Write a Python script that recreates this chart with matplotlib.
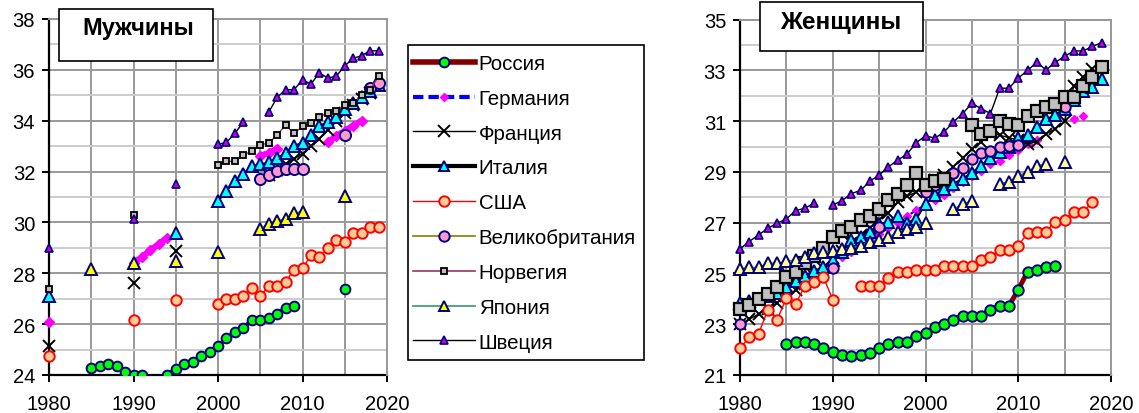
import numpy as np
import matplotlib
matplotlib.use('Agg')
import matplotlib.pyplot as plt
from matplotlib.lines import Line2D
from matplotlib.patches import Rectangle

plt.rcParams['font.family'] = ['Liberation Sans', 'DejaVu Sans']

# ---------------- data: mean age, men ----------------
m_russia_years = [1985, 1986, 1987, 1988, 1989, 1990, 1991, 1992, 1993, 1994, 1995, 1996, 1997, 1998, 1999,
                  2000, 2001, 2002, 2003, 2004, 2005, 2006, 2007, 2008, 2009, 2015]
m_russia_vals = [24.28, 24.37, 24.43, 24.34, 24.11, 24.01, 24.01, 23.75, 23.75, 24.01, 24.24, 24.43, 24.50, 24.76, 24.92,
                 25.15, 25.44, 25.68, 25.84, 26.17, 26.17, 26.23, 26.40, 26.65, 26.73, 27.38]
m_germany_years = [1980, 1990, 1991, 1992, 1993, 1994, 2005, 2006, 2007, 2013, 2014, 2015, 2016, 2017]
m_germany_vals = [26.1, 28.4, 28.65, 28.9, 29.15, 29.4, 32.6, 32.75, 32.9, 33.15, 33.4, 33.6, 33.8, 34.0]
m_france_years = [1980, 1990, 1995, 2006, 2007, 2008, 2009, 2010, 2011, 2012, 2013, 2014, 2015, 2016, 2017, 2018]
m_france_vals = [25.15, 27.62, 28.89, 31.85, 32.05, 32.3, 32.5, 32.7, 33.0, 33.3, 33.65, 34.0, 34.3, 34.6, 34.85, 35.1]
m_italy_years = [1980, 1995, 2000, 2001, 2002, 2003, 2004, 2005, 2006, 2007, 2008, 2009, 2010, 2011, 2012, 2013,
                 2014, 2015, 2016, 2017, 2018, 2019]
m_italy_vals = [27.12, 29.6, 30.84, 31.24, 31.63, 31.9, 32.2, 32.28, 32.36, 32.52, 32.73, 33.02, 33.12, 33.44, 33.78,
                33.94, 34.13, 34.45, 34.7, 34.95, 35.15, 35.4]
m_usa_years = [1980, 1990, 1995, 2000, 2001, 2002, 2003, 2004, 2005, 2006, 2007, 2008, 2009, 2010, 2011, 2012,
               2013, 2014, 2015, 2016, 2017, 2018, 2019]
m_usa_vals = [24.73, 26.17, 26.96, 26.79, 26.99, 26.99, 27.12, 27.41, 27.12, 27.49, 27.49, 27.67, 28.14, 28.21,
              28.70, 28.63, 28.98, 29.32, 29.22, 29.57, 29.57, 29.81, 29.81]
m_uk_years = [2005, 2006, 2007, 2008, 2009, 2010, 2015, 2018, 2019]
m_uk_vals = [31.71, 31.87, 32.04, 32.1, 32.1, 32.1, 33.44, 35.27, 35.5]
m_norway_years = [1980, 1990, 2000, 2001, 2002, 2003, 2004, 2005, 2006, 2007, 2008, 2009, 2010, 2011, 2012, 2013,
                  2014, 2015, 2016, 2017, 2018, 2019]
m_norway_vals = [27.38, 30.29, 32.27, 32.40, 32.40, 32.65, 32.80, 33.05, 33.12, 33.44, 33.83, 33.50, 33.78, 33.91,
                 34.16, 34.30, 34.39, 34.62, 34.70, 35.02, 35.2, 35.75]
m_japan_years = [1985, 1990, 1995, 2000, 2005, 2006, 2007, 2008, 2009, 2010, 2015]
m_japan_vals = [28.17, 28.4, 28.5, 28.83, 29.74, 29.94, 30.07, 30.14, 30.37, 30.42, 31.05]
m_sweden_years = [1980, 1990, 1995, 2000, 2001, 2002, 2003, 2006, 2007, 2008, 2009, 2010, 2011, 2012, 2013, 2014,
                  2015, 2016, 2017, 2018, 2019]
m_sweden_vals = [28.98, 30.14, 31.51, 33.07, 33.15, 33.5, 33.95, 34.33, 34.92, 35.22, 35.22, 35.61, 35.44, 35.88,
                 35.68, 35.75, 36.16, 36.45, 36.56, 36.75, 36.75]

# ---------------- data: mean age, women ----------------
w_russia_years = list(range(1985, 2015))
w_russia_vals = [22.22, 22.31, 22.31, 22.22, 22.06, 21.9, 21.8, 21.76, 21.77, 21.85, 22.06, 22.22, 22.31, 22.31,
                 22.55, 22.64, 22.88, 23.01, 23.18, 23.34, 23.34, 23.34, 23.57, 23.73, 23.73, 24.36, 25.07, 25.15,
                 25.24, 25.31]
w_germany_years = list(range(1990, 2013)) + [2016, 2017]
w_germany_vals = [25.45, 25.65, 25.85, 26.05, 26.3, 26.55, 26.8, 27.0, 27.25, 27.5, 27.7, 27.9, 28.1, 28.35, 28.6,
                  28.85, 29.05, 29.3, 29.45, 29.65, 29.85, 30.1, 30.25, 31.1, 31.2]
w_france_years = list(range(1980, 2019))
w_france_vals = [23.0, 23.2, 23.4, 23.6, 23.85, 24.1, 24.35, 24.6, 24.9, 25.2, 25.6, 25.9, 26.2, 26.5, 26.8, 27.1,
                 27.4, 27.8, 28.05, 28.2, 28.45, 28.7, 28.9, 29.2, 29.55, 29.9, 30.2, 30.55, 30.45, 30.35, 30.25,
                 30.1, 30.2, 30.5, 30.7, 31.0, 32.4, 32.75, 33.05]
w_italy_years = list(range(1980, 2020))
w_italy_vals = [23.84, 23.9, 24.0, 24.1, 24.25, 24.46, 24.72, 24.89, 25.11, 25.24, 25.55, 25.85, 26.3, 26.45, 26.62,
                26.95, 27.04, 27.27, 26.99, 27.15, 27.74, 28.08, 28.33, 28.53, 28.73, 28.97, 29.24, 29.56, 29.77,
                30.0, 30.33, 30.44, 30.78, 31.07, 31.25, 31.5, 31.85, 32.2, 32.34, 32.66]
w_usa_years = list(range(1980, 1991)) + list(range(1993, 2019))
w_usa_vals = [22.06, 22.49, 22.62, 23.57, 23.18, 24.02, 23.8, 24.52, 24.68, 24.85, 23.97,
              24.52, 24.52, 24.52, 24.81, 25.07, 25.07, 25.15, 25.15, 25.15, 25.31, 25.31, 25.31, 25.31, 25.54,
              25.64, 25.94, 25.94, 26.1, 26.58, 26.65, 26.65, 27.04, 27.12, 27.43, 27.43, 27.81]
w_uk_years = [1980, 1990, 1995] + list(range(2000, 2011)) + [2015]
w_uk_vals = [23.0, 25.2, 26.82, 28.23, 28.49, 28.75, 28.96, 29.14, 29.51, 29.75, 29.82, 29.97, 30.04, 30.06, 31.55]
w_norway_years = list(range(1980, 2003)) + list(range(2005, 2020))
w_norway_vals = [23.6, 23.75, 24.0, 24.2, 24.45, 24.85, 25.05, 25.4, 25.7, 25.99, 26.43, 26.69, 26.83, 27.1, 27.25,
                 27.53, 27.9, 28.15, 28.48, 28.97, 28.47, 28.65, 28.73,
                 30.85, 30.48, 30.6, 31.0, 30.89, 30.85, 31.2, 31.4, 31.56, 31.67, 31.95, 31.96, 32.37, 32.75, 33.12]
w_japan_years = list(range(1980, 2001)) + [2003, 2004, 2005, 2008, 2009, 2010, 2011, 2012, 2013, 2015]
w_japan_vals = [25.18, 25.24, 25.24, 25.41, 25.41, 25.48, 25.54, 25.65, 25.82, 25.85, 25.9, 25.95, 26.0, 26.1, 26.25,
                26.3, 26.45, 26.62, 26.75, 26.85, 27.0, 27.54, 27.72, 27.87, 28.53, 28.62, 28.85, 29.0, 29.25,
                29.31, 29.38]
w_sweden_years = list(range(1980, 1989)) + list(range(1990, 2020))
w_sweden_vals = [25.97, 26.26, 26.52, 26.78, 26.98, 27.15, 27.48, 27.57, 27.78,
                 27.70, 27.87, 28.15, 28.27, 28.64, 28.88, 29.2, 29.47, 29.7, 30.15, 30.43, 30.33, 30.57, 30.97,
                 31.3, 31.7, 31.5, 31.3, 32.3, 32.3, 32.7, 33.0, 33.32, 33.02, 33.32, 33.56, 33.77, 33.77, 33.95, 34.1]

labels = ['Россия', 'Германия', 'Франция', 'Италия', 'США', 'Великобритания', 'Норвегия', 'Япония', 'Швеция']
x_ticks = [1980, 1990, 2000, 2010, 2020]


def gapped(years, vals):
    xs, ys = [], []
    prev = None
    for yr, v in zip(years, vals):
        if prev is not None and yr - prev > 1:
            xs.append(np.nan)
            ys.append(np.nan)
        xs.append(yr)
        ys.append(v)
        prev = yr
    return np.array(xs, float), np.array(ys, float)


NAVY = '#000080'

W, H = 1139, 414
fig = plt.figure(figsize=(W / 100, H / 100), dpi=100)
axL = fig.add_axes([49 / W, 38 / H, 338 / W, 356 / H])
axR = fig.add_axes([740 / W, 38 / H, 371 / W, 355.3 / H])


def style_axes(ax, ylo, yhi):
    ax.set_xlim(1980, 2020)
    ax.set_ylim(ylo, yhi)
    ax.set_xticks(x_ticks)
    ax.set_xticks(np.arange(1980, 2021, 5), minor=True)
    ax.set_yticks(np.arange(ylo, yhi + 0.1, 2))
    ax.set_yticks(np.arange(ylo, yhi + 0.1, 1), minor=True)
    ax.grid(True, which='major', color='#999999', lw=1.4)
    ax.grid(True, which='minor', axis='x', color='#999999', lw=1.4)
    ax.grid(True, which='minor', axis='y', color='#cccccc', lw=1.4)
    ax.set_axisbelow(True)
    for s in ['top', 'right']:
        ax.spines[s].set_color('#999999')
        ax.spines[s].set_linewidth(1.4)
    for s in ['left', 'bottom']:
        ax.spines[s].set_color('black')
        ax.spines[s].set_linewidth(1.6)
        ax.spines[s].set_zorder(1)
    ax.tick_params(which='major', direction='out', length=5, width=1.4, labelsize=14.5, pad=5)
    ax.tick_params(axis='x', which='major', pad=9)
    ax.tick_params(which='minor', length=0)
    ax.tick_params(top=False, right=False)


style_axes(axL, 24, 38)
style_axes(axR, 21, 35)


def plot_series(ax, years, vals, clip=False, **kw):
    xs, ys = gapped(years, vals)
    ax.plot(xs, ys, clip_on=clip, **kw)


# ----- men -----
plot_series(axL, m_russia_years, m_russia_vals, clip=True, color='#800000', lw=3, marker='o', ms=7,
            mfc='#00FF00', mec=NAVY, mew=1.4)
plot_series(axL, m_germany_years, m_germany_vals, color='#FF00FF', lw=4.5, ls=(0, (1.1, 0.7)), marker='D',
            ms=5, mfc='#FF00FF', mec='#FF00FF')
plot_series(axL, m_france_years, m_france_vals, color='black', lw=1, marker='x', ms=8, mec='black', mew=1.4)
plot_series(axL, m_italy_years, m_italy_vals, color='black', lw=1.5, marker='^', ms=8.5,
            mfc='#00FFFF', mec=NAVY, mew=1.4)
plot_series(axL, m_usa_years, m_usa_vals, color='#FF0000', lw=1, marker='o', ms=7.5,
            mfc='#FFCC99', mec='#FF0000', mew=1.4)
plot_series(axL, m_uk_years, m_uk_vals, color='#808000', lw=1, marker='o', ms=8,
            mfc='#FF99CC', mec=NAVY, mew=1.4)
plot_series(axL, m_norway_years, m_norway_vals, color='#993366', lw=1, marker='s', ms=5,
            mfc='#C0C0C0', mec='black', mew=1.3)
plot_series(axL, m_japan_years, m_japan_vals, color='#339966', lw=1, marker='^', ms=8.5,
            mfc='#FFFF00', mec=NAVY, mew=1.4)
plot_series(axL, m_sweden_years, m_sweden_vals, color='black', lw=1, marker='^', ms=5.5,
            mfc='#CC00CC', mec=NAVY, mew=1.2)

# ----- women -----
plot_series(axR, w_russia_years, w_russia_vals, color='#800000', lw=3.5, marker='o', ms=7.5,
            mfc='#00FF00', mec=NAVY, mew=1.4)
plot_series(axR, w_germany_years, w_germany_vals, color='#0000FF', lw=1.5, ls=(0, (2, 2)), marker='D', ms=4,
            mfc='#FF00FF', mec='#FF00FF')
plot_series(axR, w_france_years, w_france_vals, color='black', lw=1, marker='x', ms=9, mec='black', mew=1.4)
plot_series(axR, w_italy_years, w_italy_vals, color='black', lw=1.5, marker='^', ms=8.5,
            mfc='#00FFFF', mec=NAVY, mew=1.4)
plot_series(axR, w_usa_years, w_usa_vals, color='#FF0000', lw=1, marker='o', ms=7.5,
            mfc='#FFCC99', mec='#FF0000', mew=1.4)
plot_series(axR, w_uk_years, w_uk_vals, color='#808000', lw=1, marker='o', ms=7.5,
            mfc='#FF99CC', mec=NAVY, mew=1.4)
plot_series(axR, w_norway_years, w_norway_vals, color='#993366', lw=1, marker='s', ms=8,
            mfc='#C0C0C0', mec='black', mew=1.6)
plot_series(axR, w_japan_years, w_japan_vals, color='#339966', lw=1, marker='^', ms=8.5,
            mfc='#FFFF99', mec=NAVY, mew=1.4)
plot_series(axR, w_sweden_years, w_sweden_vals, color='black', lw=1, marker='^', ms=6,
            mfc='#CC00CC', mec=NAVY, mew=1.2)

# ----- title boxes -----
fig.add_artist(Rectangle((59 / W, 1 - 62 / H), 154 / W, 52 / H, transform=fig.transFigure,
                         facecolor='white', edgecolor='black', lw=1.2, zorder=5))
fig.text(138 / W, 1 - 29 / H, 'Мужчины', ha='center', va='center', fontsize=17, fontweight='bold', zorder=6)
fig.add_artist(Rectangle((760 / W, 1 - 52 / H), 163 / W, 49 / H, transform=fig.transFigure,
                         facecolor='white', edgecolor='black', lw=1.2, zorder=5))
fig.text(841 / W, 1 - 23 / H, 'Женщины', ha='center', va='center', fontsize=17.5, fontweight='bold', zorder=6)

# ----- legend -----
handles = [
    Line2D([], [], color='#800000', lw=4, marker='o', ms=7, mfc='#00FF00', mec=NAVY, mew=1.4),
    Line2D([], [], color='#0000FF', lw=3, ls=(0, (2.5, 1.2)), marker='D', ms=4.5, mfc='#FF00FF', mec='#FF00FF'),
    Line2D([], [], color='black', lw=1, marker='x', ms=8, mec='black', mew=1.4),
    Line2D([], [], color='black', lw=3, marker='^', ms=7.5, mfc='#00FFFF', mec=NAVY, mew=1.4),
    Line2D([], [], color='#FF0000', lw=1, marker='o', ms=7.5, mfc='#FFCC99', mec='#FF0000', mew=1.4),
    Line2D([], [], color='#808000', lw=1.2, marker='o', ms=7.5, mfc='#FF99CC', mec=NAVY, mew=1.4),
    Line2D([], [], color='#993366', lw=1.2, marker='s', ms=5, mfc='#C0C0C0', mec='black', mew=1.3),
    Line2D([], [], color='#339966', lw=1.2, marker='^', ms=7.5, mfc='#FFFF00', mec=NAVY, mew=1.4),
    Line2D([], [], color='black', lw=1, marker='^', ms=5.5, mfc='#CC00CC', mec=NAVY, mew=1.2),
]
fig.add_artist(Rectangle((408 / W, 1 - 361 / H), 236 / W, 315 / H, transform=fig.transFigure,
                         facecolor='white', edgecolor='black', lw=1.2, zorder=4))
fig.legend(handles, labels, loc='upper left', bbox_to_anchor=(413 / W, 1 - 55 / H), frameon=False,
           fontsize=14.8, handlelength=3.0, handletextpad=0.2, labelspacing=0.77, borderpad=0,
           borderaxespad=0)

fig.savefig('out.png', dpi=100)
